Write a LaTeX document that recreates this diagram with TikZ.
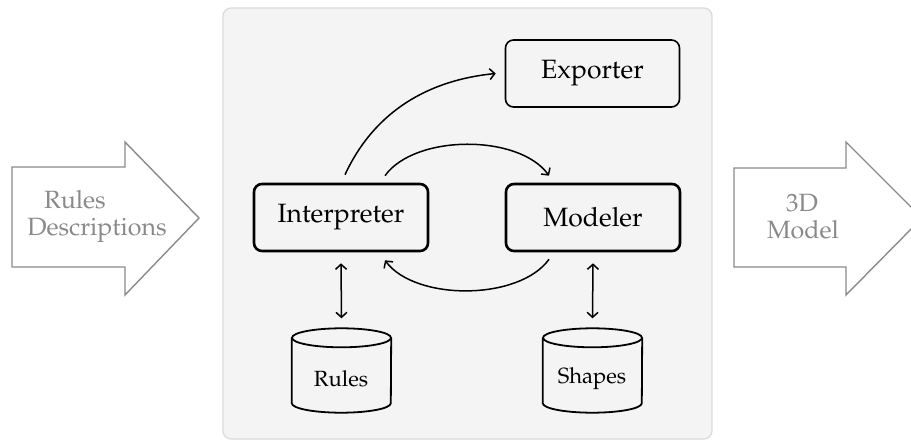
\documentclass[tikz,border=0pt]{standalone}
\usepackage[T1]{fontenc}
\IfFileExists{mathpazo.sty}{\usepackage{mathpazo}}{\IfFileExists{palatino.sty}{\usepackage{palatino}}{\usepackage{lmodern}}}
\usetikzlibrary{arrows.meta,calc}
\definecolor{panelfill}{HTML}{F4F4F4}
\definecolor{panelline}{HTML}{DADADA}
\definecolor{flowgray}{HTML}{8A8A8A}
\tikzset{
  mainbox/.style={draw=black, rounded corners=8pt, minimum width=174pt, minimum height=67pt, inner sep=0pt, font=\fontsize{26.5}{30}\selectfont},
  boldbox/.style={mainbox, line width=2.6pt},
  thinbox/.style={mainbox, line width=1.6pt},
  cylbox/.style={minimum width=99pt, minimum height=84pt, inner sep=0pt},
  cyltext/.style={inner sep=0pt, font=\fontsize{22}{26}\selectfont},
  cylline/.style={line width=1.8pt},
  conn/.style={line width=1.5pt, -{Straight Barb[length=5pt,width=11pt]}},
  dconn/.style={line width=1.5pt, {Straight Barb[length=5pt,width=11pt]}-{Straight Barb[length=5pt,width=11pt]}},
  flowarrow/.style={draw=flowgray, line width=1.4pt, fill=white},
  flowtext/.style={text=flowgray, inner sep=0pt, font=\fontsize{25}{28}\selectfont},
}
\begin{document}
\begin{tikzpicture}[x=1pt,y=-1pt]
\useasboundingbox (0,0) rectangle (911,441);
\clip (0,0) rectangle (911,441);
% panel
\draw[fill=panelfill, draw=panelline, line width=1.2pt, rounded corners=8pt] (223,8) rectangle (712,439);
% input / output arrows
\draw[flowarrow] (12,167) -- (125,167) -- (125,142) -- (199,218) -- (125,295) -- (125,267) -- (12,267) -- cycle;
\node[flowtext] (rulesA) at (75,200) {Rules};
\node[flowtext] (descA) at (97,230) {Descriptions};
\draw[flowarrow] (734,168) -- (846,168) -- (846,142) -- (922,218) -- (846,295) -- (846,267) -- (734,267) -- cycle;
\node[flowtext] (threeD) at (802,203) {3D};
\node[flowtext] (modelA) at (803,230) {Model};
% main nodes
\node[thinbox] (exporter) at (592.5,73.5) {Exporter};
\node[boldbox] (interp) at (341,217.5) {Interpreter};
\node[boldbox] (modeler) at (593,217.5) {Modeler};
% cylinders
\node[cylbox] (rules) at (341.5,370.5) {};
\node[cylbox] (shapes) at (592.5,370.5) {};
\foreach \c in {rules,shapes}{
  \draw[cylline] ($(\c.north)+(0,9.5)$) ellipse (49.5pt and 9.5pt);
  \draw[cylline] ($(\c.north west)+(0,9.5)$) -- ($(\c.south west)+(0,-9.5)$)
     arc(180:360:49.5pt and 9.5pt) -- ($(\c.north east)+(0,9.5)$);
}
\node[cyltext] (rulesT) at (341,379) {Rules};
\node[cyltext] (shapesT) at (592,379) {Shapes};
% connectors
\draw[conn] ($(interp.north)+(4,-8)$) .. controls (375,110) and (430,80) .. ($(exporter.west)+(-9,0)$);
\draw[conn] ($(interp.north)+(44,-7)$) .. controls (415,134) and (519,134) .. ($(modeler.north)+(-44,-7)$);
\draw[conn] ($(modeler.south)+(-44,7)$) .. controls (519,301) and (415,301) .. ($(interp.south)+(44,8)$);
\draw[dconn] ($(interp.south)+(0,11)$) -- ($(rules.north)+(0,-10)$);
\draw[dconn] ($(modeler.south)+(0,11)$) -- ($(shapes.north)+(0,-10)$);
\end{tikzpicture}
\end{document}
